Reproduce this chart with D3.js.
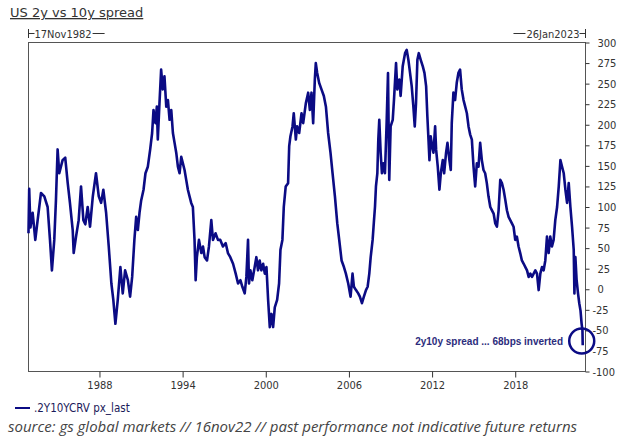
<!DOCTYPE html>
<html>
<head>
<meta charset="utf-8">
<script src="https://cdn.jsdelivr.net/npm/d3@7"></script>
<style>
  body { margin: 0; background: #fff; }
  svg { display: block; }
  .axis text { font-family: "DejaVu Sans Condensed", "DejaVu Sans", sans-serif; font-size: 11px; fill: #333; }
  .axis line { stroke: #333; }
  .axis path { display: none; }
</style>
</head>
<body>
<script>
// 2y10y spread (decimal year, bps)
const dates = [
  1982.88, 1982.93, 1983.02, 1983.18, 1983.37, 1983.54, 1983.78, 1984.02, 1984.26, 1984.43,
  1984.57, 1984.74, 1984.86, 1984.98, 1985.10, 1985.34, 1985.53, 1985.71, 1985.87, 1986.07,
  1986.14, 1986.31, 1986.50, 1986.67, 1986.84, 1986.98, 1987.15, 1987.32, 1987.52, 1987.75,
  1987.95, 1988.12, 1988.28, 1988.48, 1988.67, 1988.86, 1989.00, 1989.15, 1989.32, 1989.51,
  1989.68, 1989.85, 1990.05, 1990.21, 1990.36, 1990.52, 1990.65, 1990.77, 1990.89, 1991.01,
  1991.18, 1991.32, 1991.49, 1991.66, 1991.80, 1991.90, 1992.04, 1992.14, 1992.21, 1992.33,
  1992.45, 1992.57, 1992.69, 1992.82, 1992.94, 1993.06, 1993.18, 1993.30, 1993.42, 1993.54,
  1993.66, 1993.78, 1993.90, 1994.02, 1994.14, 1994.26, 1994.38, 1994.50, 1994.62, 1994.74,
  1994.86, 1994.94, 1995.03, 1995.18, 1995.35, 1995.47, 1995.59, 1995.76, 1995.90, 1996.07,
  1996.19, 1996.38, 1996.55, 1996.72, 1996.91, 1997.11, 1997.27, 1997.44, 1997.64, 1997.83,
  1998.00, 1998.17, 1998.31, 1998.48, 1998.60, 1998.72, 1998.79, 1998.89, 1999.03, 1999.20,
  1999.32, 1999.44, 1999.56, 1999.68, 1999.81, 1999.93, 2000.05, 2000.17, 2000.29, 2000.41,
  2000.53, 2000.65, 2000.82, 2000.96, 2001.06, 2001.20, 2001.30, 2001.44, 2001.61, 2001.69,
  2001.78, 2001.93, 2002.02, 2002.17, 2002.26, 2002.41, 2002.58, 2002.70, 2002.89, 2003.06,
  2003.18, 2003.30, 2003.42, 2003.54, 2003.61, 2003.71, 2003.85, 2004.02, 2004.19, 2004.34,
  2004.50, 2004.67, 2004.82, 2004.99, 2005.16, 2005.30, 2005.47, 2005.64, 2005.78, 2005.95,
  2006.12, 2006.26, 2006.36, 2006.51, 2006.67, 2006.79, 2006.94, 2007.08, 2007.23, 2007.35,
  2007.47, 2007.57, 2007.71, 2007.81, 2007.88, 2007.95, 2008.05, 2008.12, 2008.19, 2008.29,
  2008.38, 2008.48, 2008.60, 2008.72, 2008.82, 2008.91, 2009.01, 2009.16, 2009.25, 2009.40,
  2009.49, 2009.64, 2009.73, 2009.88, 2010.05, 2010.17, 2010.29, 2010.41, 2010.53, 2010.65,
  2010.75, 2010.84, 2010.94, 2011.04, 2011.18, 2011.33, 2011.45, 2011.57, 2011.66, 2011.74,
  2011.81, 2011.90, 2012.00, 2012.10, 2012.22, 2012.29, 2012.41, 2012.53, 2012.63, 2012.77,
  2012.87, 2013.01, 2013.11, 2013.25, 2013.35, 2013.42, 2013.54, 2013.66, 2013.78, 2013.90,
  2014.02, 2014.14, 2014.27, 2014.39, 2014.51, 2014.63, 2014.75, 2014.87, 2014.99, 2015.11,
  2015.23, 2015.35, 2015.47, 2015.59, 2015.71, 2015.83, 2015.95, 2016.07, 2016.20, 2016.32,
  2016.44, 2016.56, 2016.68, 2016.80, 2016.92, 2017.04, 2017.16, 2017.28, 2017.40, 2017.52,
  2017.64, 2017.76, 2017.88, 2018.00, 2018.12, 2018.24, 2018.36, 2018.48, 2018.61, 2018.73,
  2018.85, 2018.97, 2019.09, 2019.21, 2019.33, 2019.45, 2019.57, 2019.69, 2019.81, 2019.93,
  2020.05, 2020.17, 2020.29, 2020.41, 2020.53, 2020.65, 2020.77, 2020.89, 2021.02, 2021.14,
  2021.26, 2021.38, 2021.50, 2021.62, 2021.74, 2021.86, 2021.98, 2022.10, 2022.22, 2022.27,
  2022.34, 2022.43, 2022.53, 2022.62, 2022.71, 2022.79, 2022.85, 2022.87
];
const spread = [
   68, 122,  75,  93,  60,  84, 117, 113, 100,  60,
   23,  60, 108, 170, 141, 157, 160, 129, 105,  72,
   44,  64,  84, 125,  84,  79, 100,  76, 113, 141,
  113, 105, 121,  93,  52,   7, -13, -42, -13,  27,
   -5,  23,  11,  -9,  15,  60,  88,  72,  93, 108,
  121, 141, 149, 170, 190, 218, 202, 222, 182, 226,
  267, 243, 259, 222, 230, 206, 218, 190, 178, 166,
  149, 141, 161, 153, 145, 133, 121, 113, 105, 100,
   60,  11,  39,  60,  44,  52,  39,  35,  52,  84,
   60,  68,  60,  60,  52,  56,  44,  39,  31,  19,
    7,  11,   3,  -5,  15,  60,   7,  23,  11,  27,
   39,  23,  35,  23,  31,  19,  27, -13, -46, -30,
  -46, -22, -13,   7,  48,  60, 100, 125, 129, 174,
  186, 198, 214, 182, 198, 190, 214, 202, 226, 239,
  218, 239, 202, 255, 275, 263, 251, 243, 235, 222,
  190, 166, 141, 113,  80,  60,  35,  27,  19,   7,
   -9,  19,   3,  -1,  -5,  -9, -17,  -9,  -1,   3,
   19,  39,  60,  84, 100, 125, 141, 182, 206, 166,
  141, 153, 141, 202, 263, 133, 198, 206, 230, 275,
  243, 255, 235, 271, 287, 291, 279, 263, 247, 222,
  198, 226, 279, 287, 279, 271, 263, 247, 210, 182,
  157, 186, 174, 166, 198, 170, 149, 121, 141, 157,
  141, 166, 178, 157, 145, 202, 239, 230, 251, 263,
  267, 243, 230, 222, 214, 198, 188, 182, 149, 125,
  153, 149, 178, 157, 145, 141, 129, 113, 100,  96,
   92,  80,  76,  96, 133, 129, 121, 109,  96,  88,
   84,  80,  76,  60,  64,  52,  44,  35,  31,  27,
   23,  15,  19,  15,  19,  23,  19,  -1,  19,  27,
   23,  35,  64,  44,  64,  52,  60,  84, 100, 125,
  157, 149, 141, 121, 105, 129, 100,  76,  48,  -5,
   39,  11,  -5, -17, -26, -42, -50, -68
];
const xTickYears = [1988, 1994, 2000, 2006, 2012, 2018];
const yTicks = [-100, -75, -50, -25, 0, 25, 50, 75, 100, 125, 150, 175, 200, 225, 250, 275, 300];
const startLabel = "17Nov1982";
const endLabel = "26Jan2023";

const W = 640, H = 442;
const plotLeft = 28.5, plotRight = 585.5, plotTop = 42.5, plotBottom = 371.5;

const svg = d3.select("body").append("svg")
  .attr("width", W).attr("height", H);

const x = d3.scaleLinear().domain([1982.88, 2023.07]).range([plotLeft, plotRight]);
const y = d3.scaleLinear().domain([-100, 300]).range([plotBottom, plotTop]);

// title
svg.append("text")
  .attr("x", 10).attr("y", 17)
  .attr("font-family", "DejaVu Sans, sans-serif")
  .attr("font-size", 13)
  .attr("fill", "#333")
  .attr("text-decoration", "underline")
  .text("US 2y vs 10y spread");

// frame
svg.append("rect")
  .attr("x", plotLeft).attr("y", plotTop)
  .attr("width", plotRight - plotLeft).attr("height", plotBottom - plotTop)
  .attr("fill", "none").attr("stroke", "#555").attr("stroke-width", 1);

// date range markers above the frame
const marks = svg.append("g")
  .attr("font-family", "DejaVu Sans Condensed, DejaVu Sans, sans-serif")
  .attr("font-size", 11).attr("fill", "#333");
marks.append("line").attr("x1", plotLeft).attr("x2", plotLeft).attr("y1", 29).attr("y2", 38).attr("stroke", "#333");
marks.append("line").attr("x1", plotLeft).attr("x2", plotLeft + 6).attr("y1", 33.5).attr("y2", 33.5).attr("stroke", "#333");
const st = marks.append("text").attr("x", plotLeft + 6).attr("y", 38).text(startLabel);
const stW = st.node().getComputedTextLength();
marks.append("line").attr("x1", plotLeft + 7 + stW).attr("x2", plotLeft + 19 + stW).attr("y1", 33.5).attr("y2", 33.5).attr("stroke", "#333");

marks.append("line").attr("x1", plotRight).attr("x2", plotRight).attr("y1", 29).attr("y2", 38).attr("stroke", "#333");
marks.append("line").attr("x1", plotRight - 6).attr("x2", plotRight).attr("y1", 33.5).attr("y2", 33.5).attr("stroke", "#333");
const en = marks.append("text").attr("x", plotRight - 6).attr("y", 38).attr("text-anchor", "end").text(endLabel);
const enW = en.node().getComputedTextLength();
marks.append("line").attr("x1", plotRight - 19 - enW).attr("x2", plotRight - 7 - enW).attr("y1", 33.5).attr("y2", 33.5).attr("stroke", "#333");

// axes
svg.append("g")
  .attr("class", "axis")
  .attr("transform", "translate(0," + plotBottom + ")")
  .call(d3.axisBottom(x).tickValues(xTickYears).tickFormat(d3.format("d")).tickSize(6).tickPadding(4));

const yAxis = svg.append("g")
  .attr("class", "axis")
  .attr("transform", "translate(" + plotRight + ",0)")
  .call(d3.axisRight(y).tickValues(yTicks).tickFormat(d => d < 0 ? "-" + Math.abs(d) : d).tickSize(4).tickPadding(8));
yAxis.selectAll(".tick text").filter(d => d < 0).attr("x", 7);

// series line
const series = dates.map((d, i) => ({ t: d, v: spread[i] }));
const line = d3.line().x(d => x(d.t)).y(d => y(d.v));
svg.append("path")
  .datum(series)
  .attr("d", line)
  .attr("fill", "none")
  .attr("stroke", "#0b0b84")
  .attr("stroke-width", 2.6)
  .attr("stroke-linejoin", "round");

// annotation
const last = series[series.length - 1];
svg.append("circle")
  .attr("cx", x(last.t) - 1).attr("cy", 341)
  .attr("r", 12.5)
  .attr("fill", "none").attr("stroke", "#0b0b84").attr("stroke-width", 2.5);
svg.append("text")
  .attr("x", 563).attr("y", 345)
  .attr("text-anchor", "end")
  .attr("font-family", "Liberation Sans, Arial, sans-serif")
  .attr("font-weight", "bold").attr("font-size", 10)
  .attr("fill", "#2c2c7c")
  .text("2y10y spread ... " + Math.abs(last.v) + "bps inverted");

// legend
svg.append("line")
  .attr("x1", 15).attr("x2", 30).attr("y1", 408).attr("y2", 408)
  .attr("stroke", "#0b0b84").attr("stroke-width", 2);
svg.append("text")
  .attr("x", 34).attr("y", 412)
  .attr("font-family", "DejaVu Sans Condensed, DejaVu Sans, sans-serif")
  .attr("font-size", 11.5).attr("fill", "#1a1a5a")
  .text(".2Y10YCRV px_last");

// source
svg.append("text")
  .attr("x", 8).attr("y", 432)
  .attr("font-family", "Open Sans, sans-serif")
  .attr("font-style", "italic").attr("font-size", 15)
  .attr("fill", "#444")
  .text("source: gs global markets // 16nov22 // past performance not indicative future returns");
</script>
</body>
</html>
